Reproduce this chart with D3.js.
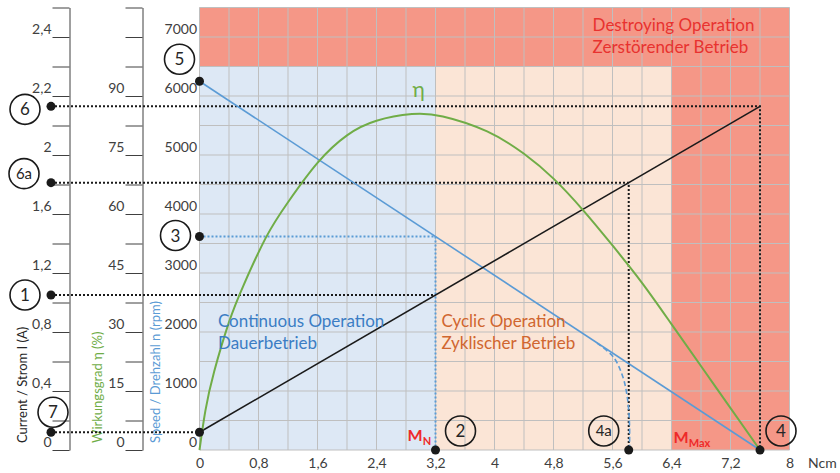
<!DOCTYPE html>
<html>
<head>
<meta charset="utf-8">
<script src="https://cdn.jsdelivr.net/npm/d3@7"></script>
<style>
    body { margin: 0; background: #fff; }
    svg { display: block; font-family: Lato, "Open Sans", sans-serif; }
</style>
</head>
<body>
<svg id="chart" width="840" height="473"></svg>
<script>
"use strict";

/* global d3 */

// tick labels
var torqueTicks = [0, 0.8, 1.6, 2.4, 3.2, 4, 4.8, 5.6, 6.4, 7.2, 8];
var speedTicks = [0, 1000, 2000, 3000, 4000, 5000, 6000, 7000];
var efficiencyTicks = [0, 15, 30, 45, 60, 75, 90];
var currentTickValues = [0, 0.4, 0.8, 1.2, 1.6, 2.0, 2.4, 2.8];
var currentTickLabels = ["0", "0,4", "0,8", "1,2", "1,6", "2", "2,2", "2,4"];

// characteristic lines, [torque Ncm, value]
var speedLine = [[0, 6250], [7.6, 0]];
var currentLine = [[0, 0.12], [7.6, 2.33]];
var efficiencyCurve = [
    [0, 0], [0.08, 10], [0.2, 20], [0.4, 32.5], [0.6, 42], [0.9, 54], [1.2, 63],
    [1.6, 73], [2.0, 80], [2.4, 83.7], [2.88, 85.4], [3.3, 84.8], [3.9, 81],
    [4.4, 75.3], [4.8, 69], [5.2, 61], [5.6, 52], [6.0, 42.5], [6.4, 32],
    [7.0, 16], [7.6, 0]
];
var cyclicSpeedCurve = [[5.39, 1810], [5.61, 1580], [5.74, 1240], [5.8, 900], [5.83, 450], [5.83, 0]];

var ratedTorque = 3.2;
var cyclicTorque = 5.82;
var stallTorque = 7.6;

var zones = [
    { x0: 0, x1: 3.2, y0: 0, y1: 6500, fill: "#dde8f5" },
    { x0: 3.2, x1: 6.4, y0: 0, y1: 6500, fill: "#fbe5d6" },
    { x0: 6.4, x1: 8, y0: 0, y1: 6500, fill: "#f59787" },
    { x0: 0, x1: 8, y0: 6500, y1: 7500, fill: "#f59787" }
];


var svg = d3.select("#chart");

var x = d3.scaleLinear().domain([0, 8]).range([199.5, 789.5]);
var ySpeed = d3.scaleLinear().domain([0, 7500]).range([450, 7.5]);
var yEta = d3.scaleLinear().domain([0, 112.5]).range([450, 7.5]);
var yCurrent = d3.scaleLinear().domain([0, 3]).range([450, 7.5]);

var speedAt = d3.scaleLinear().domain(speedLine.map(function(d) { return d[0]; }))
    .range(speedLine.map(function(d) { return d[1]; }));
var currentAt = d3.scaleLinear().domain(currentLine.map(function(d) { return d[0]; }))
    .range(currentLine.map(function(d) { return d[1]; }));

var comma = function(d) { return String(d).replace(".", ","); };

var leftX = 51;      // column of the left markers
var blue = "#5b9bd5", green = "#70ad47", ink = "#1a1a1a";


// --- operating zones and grid ---
svg.append("g").selectAll("rect")
    .data(zones)
    .enter()
    .append("rect")
      .attr("x", function(d) { return x(d.x0); })
      .attr("y", function(d) { return ySpeed(d.y1); })
      .attr("width", function(d) { return x(d.x1) - x(d.x0); })
      .attr("height", function(d) { return ySpeed(d.y0) - ySpeed(d.y1); })
      .attr("fill", function(d) { return d.fill; });

var grid = svg.append("g").attr("stroke", "#bfbfbf").attr("stroke-width", 1);
grid.selectAll(".v")
    .data(d3.range(0, 21).map(function(i) { return i * 0.4; }))
    .enter().append("line")
      .attr("x1", function(d) { return x(d); }).attr("x2", function(d) { return x(d); })
      .attr("y1", ySpeed(0)).attr("y2", ySpeed(7500));
grid.selectAll(".h")
    .data(d3.range(0, 16).map(function(i) { return i * 500; }))
    .enter().append("line")
      .attr("x1", x(0)).attr("x2", x(8))
      .attr("y1", function(d) { return ySpeed(d); }).attr("y2", function(d) { return ySpeed(d); });


// --- axes ---
function styleAxis(g) {
    g.selectAll("path, line").attr("stroke", "#404040");
    g.selectAll("text").attr("fill", "#404040").attr("font-size", "14px").attr("font-family", "Lato, sans-serif");
}

var currentAxis = svg.append("g").attr("transform", "translate(69.5,0)")
    .call(d3.axisLeft(yCurrent)
        .tickValues(d3.range(0, 16).map(function(i) { return i * 0.2; }))
        .tickSize(17).tickSizeOuter(0).tickPadding(1)
        .tickFormat(function(d) {
            var i = currentTickValues.findIndex(function(v) { return Math.abs(v - d) < 1e-6; });
            return i < 0 ? "" : currentTickLabels[i];
        }));
currentAxis.call(styleAxis);
currentAxis.selectAll("text").attr("dy", "-0.25em");

var etaAxis = svg.append("g").attr("transform", "translate(142.5,0)")
    .call(d3.axisLeft(yEta)
        .tickValues(d3.range(0, 16).map(function(i) { return i * 7.5; }))
        .tickSize(17).tickSizeOuter(0).tickPadding(1)
        .tickFormat(function(d) { return efficiencyTicks.indexOf(d) < 0 ? "" : d; }));
etaAxis.call(styleAxis);
etaAxis.selectAll("text").attr("dy", "-0.25em");

var speedAxis = svg.append("g").attr("transform", "translate(197,0)")
    .call(d3.axisLeft(ySpeed).tickValues(speedTicks).tickSize(0).tickPadding(0).tickFormat(d3.format("d")));
speedAxis.call(styleAxis);
speedAxis.select(".domain").remove();
speedAxis.selectAll("text").attr("dy", "-0.25em");

var torqueAxis = svg.append("g").attr("transform", "translate(0,450)")
    .call(d3.axisBottom(x).tickValues(torqueTicks).tickSize(0).tickPadding(8).tickFormat(comma));
torqueAxis.call(styleAxis);
torqueAxis.select(".domain").remove();

svg.append("text").attr("x", 808).attr("y", 468)
    .attr("font-size", "14px").attr("fill", "#404040").text("Ncm");

var titles = [
    { text: "Current / Strom I (A)", x: 27, color: "#262626" },
    { text: "Wirkungsgrad η (%)", x: 101.5, color: green },
    { text: "Speed / Drehzahl n (rpm)", x: 159.5, color: blue }
];
svg.append("g").selectAll("text")
    .data(titles)
    .enter().append("text")
      .attr("transform", function(d) { return "translate(" + d.x + ",443) rotate(-90)"; })
      .attr("font-size", "13px")
      .attr("fill", function(d) { return d.color; })
      .text(function(d) { return d.text; });


// --- dotted guide lines ---
var guides = svg.append("g").attr("fill", "none").attr("stroke-width", 2).attr("stroke-dasharray", "2,2");

function guidePath(points, color) {
    guides.append("path")
        .attr("d", d3.line()(points))
        .attr("stroke", color);
}

var iStall = yCurrent(currentAt(stallTorque));
var iCyclic = yCurrent(currentAt(cyclicTorque));
var iRated = yCurrent(currentAt(ratedTorque));
var iNoLoad = yCurrent(currentAt(0));
var nRated = ySpeed(speedAt(ratedTorque));

guidePath([[leftX, iStall], [x(stallTorque), iStall], [x(stallTorque), ySpeed(0)]], ink);
guidePath([[leftX, iCyclic], [x(cyclicTorque), iCyclic], [x(cyclicTorque), ySpeed(0)]], ink);
guidePath([[leftX, iRated], [x(ratedTorque), iRated]], ink);
guidePath([[leftX, iNoLoad], [x(0), iNoLoad]], ink);
guidePath([[x(0), nRated], [x(ratedTorque), nRated], [x(ratedTorque), ySpeed(0)]], blue);


// --- characteristic curves ---
var curves = svg.append("g").attr("fill", "none");

curves.append("path")
    .attr("d", d3.line().x(function(d) { return x(d[0]); }).y(function(d) { return ySpeed(d[1]); })(speedLine))
    .attr("stroke", blue).attr("stroke-width", 1.6);

curves.append("path")
    .attr("d", d3.line().x(function(d) { return x(d[0]); })
        .y(function(d) { return ySpeed(d[1]); })
        .curve(d3.curveCatmullRom.alpha(0.5))(cyclicSpeedCurve))
    .attr("stroke", blue).attr("stroke-width", 1.6).attr("stroke-dasharray", "5,3");

curves.append("path")
    .attr("d", d3.line().x(function(d) { return x(d[0]); }).y(function(d) { return yCurrent(d[1]); })(currentLine))
    .attr("stroke", ink).attr("stroke-width", 1.6);

curves.append("path")
    .attr("d", d3.line().x(function(d) { return x(d[0]); })
        .y(function(d) { return yEta(d[1]); })
        .curve(d3.curveNatural)(efficiencyCurve))
    .attr("stroke", green).attr("stroke-width", 2);


// --- marker dots ---
var dots = [
    [leftX, iStall], [leftX, iCyclic], [leftX, iRated], [leftX, iNoLoad],
    [x(0), iNoLoad], [x(0), ySpeed(speedAt(0))], [x(0), nRated],
    [x(ratedTorque), ySpeed(0)], [x(cyclicTorque), ySpeed(0)], [x(stallTorque), ySpeed(0)]
];
svg.append("g").selectAll("circle")
    .data(dots)
    .enter().append("circle")
      .attr("cx", function(d) { return d[0]; })
      .attr("cy", function(d) { return d[1]; })
      .attr("r", 4.5)
      .attr("fill", ink);


// --- numbered markers ---
var markers = [
    { label: "5", cx: x(0) - 20, cy: ySpeed(speedAt(0)) - 22 },
    { label: "6", cx: 25, cy: iStall + 3 },
    { label: "6a", cx: 24, cy: iCyclic - 9 },
    { label: "3", cx: x(0) - 24, cy: nRated - 1 },
    { label: "1", cx: 25, cy: iRated },
    { label: "7", cx: 53, cy: iNoLoad - 20 },
    { label: "2", cx: x(ratedTorque) + 25, cy: ySpeed(0) - 19 },
    { label: "4a", cx: x(cyclicTorque) - 25, cy: ySpeed(0) - 19 },
    { label: "4", cx: x(stallTorque) + 21, cy: ySpeed(0) - 19 }
];
var marker = svg.append("g").selectAll("g")
    .data(markers)
    .enter().append("g")
      .attr("transform", function(d) { return "translate(" + d.cx + "," + d.cy + ")"; });
marker.append("circle").attr("r", 15).attr("fill", "none").attr("stroke", ink).attr("stroke-width", 1.6);
marker.append("text")
    .attr("text-anchor", "middle").attr("dy", "0.36em")
    .attr("font-size", function(d) { return d.label.length > 1 ? "15px" : "17px"; })
    .attr("fill", "#262626")
    .text(function(d) { return d.label; });


// --- zone and point labels ---
var zoneLabels = [
    { lines: ["Destroying Operation", "Zerstörender Betrieb"], m: 5.33, y: 31, color: "#e8322f" },
    { lines: ["Continuous Operation", "Dauerbetrieb"], m: 0.25, y: 327, color: "#3b7dc4" },
    { lines: ["Cyclic Operation", "Zyklischer Betrieb"], m: 3.28, y: 327, color: "#d0662f" }
];
zoneLabels.forEach(function(z) {
    svg.append("g").selectAll("text")
        .data(z.lines)
        .enter().append("text")
          .attr("x", x(z.m))
          .attr("y", function(d, i) { return z.y + i * 22; })
          .attr("font-size", "17px")
          .attr("fill", z.color)
          .text(function(d) { return d; });
});

svg.append("text").attr("x", x(2.97)).attr("y", 97)
    .attr("text-anchor", "middle").attr("font-size", "21px").attr("fill", green).text("η");

function torqueMark(label, sub, xEnd, base) {
    var t = svg.append("text").attr("x", xEnd).attr("y", base)
        .attr("font-weight", "bold").attr("fill", "#ee2a2a").attr("font-size", "16px");
    t.append("tspan").text(label);
    t.append("tspan").attr("font-size", "11px").attr("dy", 4).text(sub);
}
torqueMark("M", "N", x(ratedTorque) - 28, 441);
torqueMark("M", "Max", x(6.4) + 2, 443);
</script>
</body>
</html>
